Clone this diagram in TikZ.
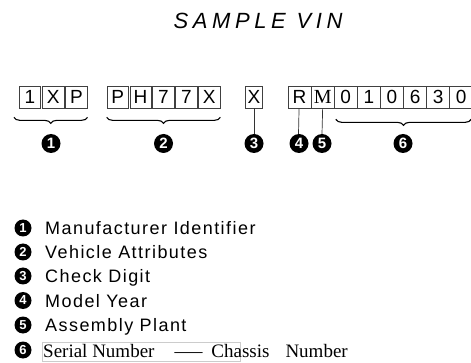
\documentclass[tikz,border=0pt]{standalone}
\usepackage{fontspec}
\setmainfont{Liberation Serif}
\setsansfont{Liberation Sans}
\newfontfamily\titlefont[LetterSpace=21]{Liberation Sans}
\newfontfamily\legfont[LetterSpace=8]{Liberation Sans}
\usetikzlibrary{decorations.pathreplacing}
\tikzset{
  cell/.style={draw=black!75, line width=0.7pt, minimum width=21.5pt, minimum height=22pt,
    inner sep=0pt, font=\sffamily\fontsize{19}{19}\selectfont, text height=13.6pt, text depth=0pt},
  rcell/.style={cell, minimum width=23.1pt},
  bigdot/.style={circle, fill=black, text=white, minimum size=19pt, inner sep=0pt,
    font=\sffamily\bfseries\fontsize{15}{15}\selectfont},
  smalldot/.style={circle, fill=black, text=white, minimum size=17pt, inner sep=0pt,
    font=\sffamily\bfseries\fontsize{13}{13}\selectfont},
  legtext/.style={anchor=base west, inner sep=0pt, font=\legfont\fontsize{18}{18}\selectfont},
  bracestyle/.style={decorate, decoration={brace, mirror, amplitude=6pt}, line width=1.1pt},
  tick/.style={line width=0.7pt, black!80}
}
\begin{document}
\begin{tikzpicture}[x=1pt,y=-1pt]
\useasboundingbox (0,0) rectangle (471,363);
\node[font=\titlefont\itshape\fontsize{22}{22}\selectfont] (title) at (258,21) {SAMPLE VIN};

% group 1
\node[cell] (a1) at (30,97) {1};
\node[cell] (a2) at (53.2,97) {X};
\node[cell] (a3) at (76.4,97) {P};
% group 2
\node[cell, minimum width=21.4pt] (b1) at (117.7,97) {P};
\node[cell, minimum width=21.4pt] (b2) at (140.6,97) {H};
\node[cell, minimum width=21.4pt] (b3) at (163.5,97) {7};
\node[cell, minimum width=21.4pt] (b4) at (186.4,97) {7};
\node[cell, minimum width=21.4pt] (b5) at (209.3,97) {X};
% check digit
\node[cell, minimum width=17pt] (cx) at (254,97) {X};
% RM row
\node[rcell] (r1) at (299.55,97) {R};
\node[rcell, font=\rmfamily\fontsize{20}{20}\selectfont] (r2) at (322.65,97) {M};
\node[rcell] (r3) at (345.75,97) {0};
\node[rcell] (r4) at (368.85,97) {1};
\node[rcell] (r5) at (391.95,97) {0};
\node[rcell] (r6) at (415.05,97) {6};
\node[rcell] (r7) at (438.15,97) {3};
\node[rcell] (r8) at (461.25,97) {0};

% numbered dots
\node[bigdot] (c1) at (51,143.5) {1};
\node[bigdot] (c2) at (163.5,143.5) {2};
\node[bigdot] (c3) at (254,143.5) {3};
\node[bigdot] (c4) at (299,143.5) {4};
\node[bigdot] (c5) at (322,143.5) {5};
\node[bigdot] (c6) at (403,143.5) {6};

% braces
\draw[bracestyle] ([xshift=-5pt,yshift=-9pt]a1.south west) -- ([yshift=-9pt]a3.south east);
\draw[bracestyle] ([yshift=-9pt]b1.south west) -- ([yshift=-9pt]b5.south east);
\draw[bracestyle] ([xshift=2pt,yshift=-11pt]r3.south west) -- ([xshift=-2pt,yshift=-11pt]r8.south east);

% ticks
\draw[tick] (cx.south) -- (c3.north);
\draw[tick] ([xshift=-0.5pt]r1.south) -- ([xshift=-0.5pt]c4.north);
\draw[tick] (r2.south) -- (c5.north);

% legend
\node[smalldot] (l1) at (23,228) {1};
\node[legtext] (t1) at (45,234.5) {Manufacturer Identifier};
\node[smalldot] (l2) at (23,252) {2};
\node[legtext] (t2) at (45,258.5) {Vehicle Attributes};
\node[smalldot] (l3) at (23,276) {3};
\node[legtext] (t3) at (45,282.5) {Check Digit};
\node[smalldot] (l4) at (23,300.5) {4};
\node[legtext] (t4) at (45,307) {Model Year};
\node[smalldot] (l5) at (23,325) {5};
\node[legtext] (t5) at (45,331.5) {Assembly Plant};
\node[smalldot] (l6) at (23,350) {6};
\draw[gray!40, line width=0.6pt] (42,342) rectangle (240,361);
\node[anchor=base west, inner sep=0pt, font=\rmfamily\fontsize{19}{19}\selectfont] (t6) at (43,357)
  {Serial Number\hspace{20pt}\scalebox{1.47}[1]{—}\hspace{9pt}Chassis\hspace{16pt}Number};
\end{tikzpicture}
\end{document}
